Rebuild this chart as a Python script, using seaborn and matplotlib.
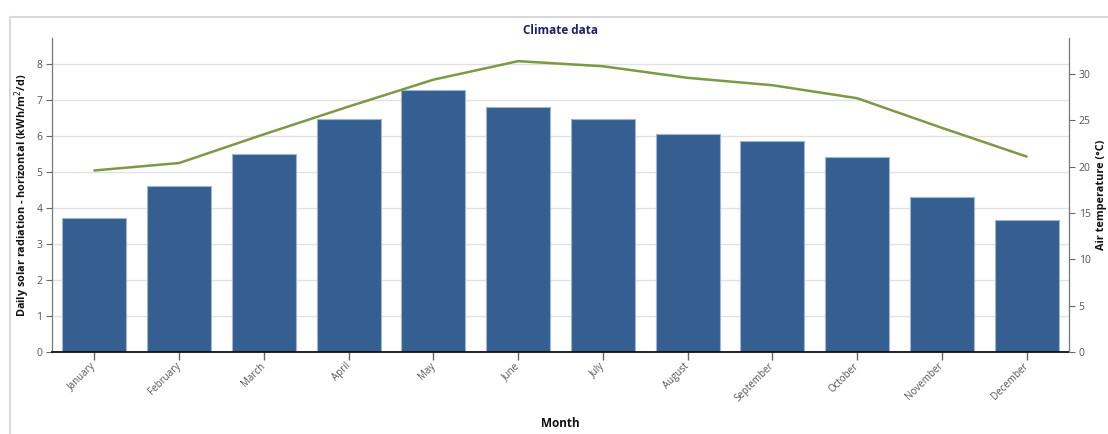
import matplotlib
matplotlib.use("Agg")
import matplotlib.pyplot as plt
from matplotlib.lines import Line2D
import seaborn as sns
import pandas as pd

months = ["January", "February", "March", "April", "May", "June", "July",
          "August", "September", "October", "November", "December"]
radiation = [3.71, 4.60, 5.49, 6.46, 7.27, 6.81, 6.46, 6.06, 5.85, 5.41, 4.31, 3.66]
temperature = [19.6, 20.4, 23.5, 26.5, 29.4, 31.4, 30.85, 29.6, 28.8, 27.4, 24.2, 21.1]
left_ticks = [0, 1, 2, 3, 4, 5, 6, 7, 8]
right_ticks = [0, 5, 10, 15, 20, 25, 30]

df = pd.DataFrame({"Month": months, "Radiation": radiation, "Temperature": temperature})

sns.set_theme(style="white")
plt.rcParams["font.family"] = ["Open Sans", "DejaVu Sans"]

W, H = 1108, 434
fig = plt.figure(figsize=(W / 100, H / 100), dpi=100)
ax = fig.add_axes([52 / W, 1 - 352 / H, (1069 - 52) / W, (352 - 38) / H])

bar_color = "#365F91"
sns.barplot(data=df, x="Month", y="Radiation", color=bar_color, saturation=1,
            width=0.755, edgecolor="#9fb4d3", linewidth=0.8, ax=ax, zorder=2)

ax.set_ylim(0, 8.72)
ax.set_xlim(-0.5, 11.5)
ax.set_yticks(left_ticks)
ax.yaxis.grid(True, color="#e2e2e2", linewidth=1.0, zorder=0)
ax.set_axisbelow(True)
ax.set_xlabel("Month", fontsize=8.5, fontweight="bold", color="#111111", labelpad=9)
ax.set_ylabel("Daily solar radiation - horizontal (kWh/m$^2$/d)", fontsize=7.8,
              fontweight="bold", color="#111111", labelpad=3)
ax.tick_params(axis="y", length=4, width=0.8, color="#666666", labelsize=7.5,
               labelcolor="#555555", pad=3, left=True)
ax.tick_params(axis="x", length=6, width=1.0, color="#666666", labelsize=7,
               labelcolor="#555555", pad=3, bottom=True)
for lbl in ax.get_xticklabels():
    lbl.set_rotation(45)
    lbl.set_ha("right")
    lbl.set_va("center")
    lbl.set_rotation_mode("anchor")
for s in ["top", "right"]:
    ax.spines[s].set_visible(False)
ax.spines["left"].set_color("#777777")
ax.spines["left"].set_linewidth(0.9)
ax.spines["bottom"].set_color("#111111")
ax.spines["bottom"].set_linewidth(1.3)

ax2 = ax.twinx()
sns.lineplot(data=df, x="Month", y="Temperature", color="#7A9A45", linewidth=1.8,
             ax=ax2, sort=False)
ax2.set_ylim(0, 33.9)
ax2.set_yticks(right_ticks)
ax2.set_ylabel("Air temperature (°C)", fontsize=7.8, fontweight="bold",
               color="#111111", labelpad=4)
ax2.tick_params(axis="y", length=4, width=0.8, color="#666666", labelsize=7.5,
                labelcolor="#555555", pad=3, right=True)
for s in ["top", "left", "bottom"]:
    ax2.spines[s].set_visible(False)
ax2.spines["right"].set_color("#777777")
ax2.spines["right"].set_linewidth(0.9)
ax2.grid(False)

ax.set_title("Climate data", fontsize=8.5, fontweight="bold", color="#1F1F6B", pad=3)

# panel frame
fig.add_artist(Line2D([10 / W, 1.0], [1 - 17 / H, 1 - 17 / H], color="#d9d9d9",
                      linewidth=1.5, transform=fig.transFigure))
fig.add_artist(Line2D([10 / W, 10 / W], [0, 1 - 17 / H], color="#d9d9d9",
                      linewidth=1.5, transform=fig.transFigure))

fig.savefig("out.png", dpi=100)
